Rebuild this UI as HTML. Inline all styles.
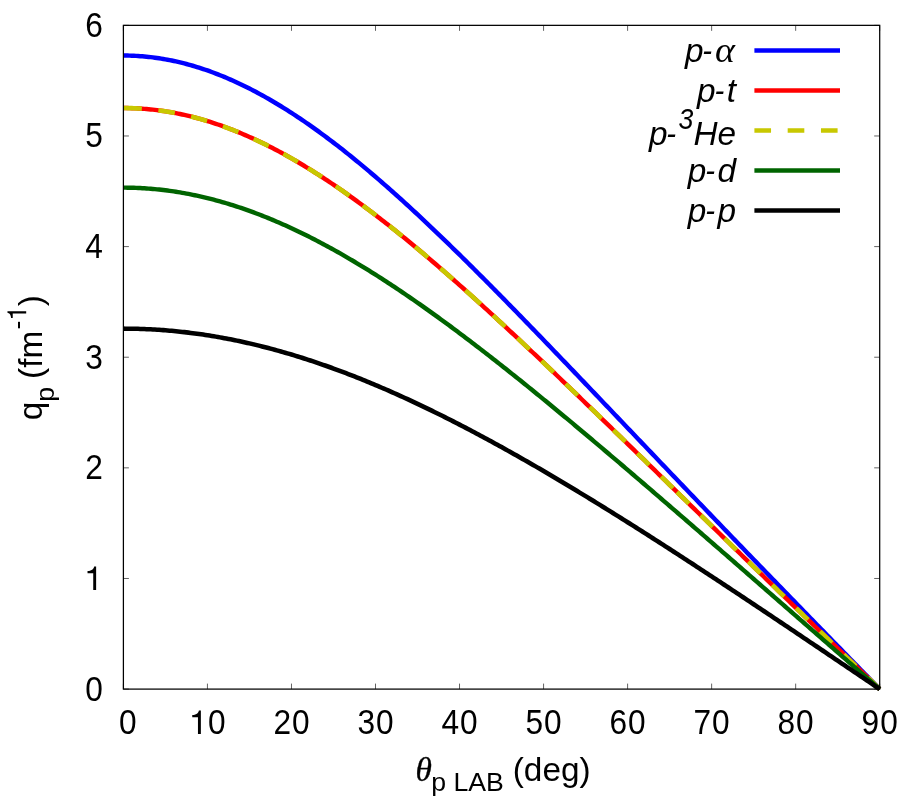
<!DOCTYPE html>
<html><head><meta charset="utf-8"><title>q_p vs theta_p LAB</title>
<style>
html,body{margin:0;padding:0;background:#fff;}
body{width:900px;height:796px;overflow:hidden;position:relative;font-family:"Liberation Sans",sans-serif;}
</style></head><body>
<svg width="900" height="796" viewBox="0 0 900 796" style="position:absolute;left:0;top:0;will-change:transform">
<path d="M123.40,689.1 V683.6 M123.40,25.35 V30.85 M207.43,689.1 V683.6 M207.43,25.35 V30.85 M291.47,689.1 V683.6 M291.47,25.35 V30.85 M375.50,689.1 V683.6 M375.50,25.35 V30.85 M459.53,689.1 V683.6 M459.53,25.35 V30.85 M543.57,689.1 V683.6 M543.57,25.35 V30.85 M627.60,689.1 V683.6 M627.60,25.35 V30.85 M711.63,689.1 V683.6 M711.63,25.35 V30.85 M795.67,689.1 V683.6 M795.67,25.35 V30.85 M879.70,689.1 V683.6 M879.70,25.35 V30.85 M123.4,689.10 H128.9 M879.7,689.10 H874.2 M123.4,578.48 H128.9 M879.7,578.48 H874.2 M123.4,467.85 H128.9 M879.7,467.85 H874.2 M123.4,357.23 H128.9 M879.7,357.23 H874.2 M123.4,246.60 H128.9 M879.7,246.60 H874.2 M123.4,135.98 H128.9 M879.7,135.98 H874.2 M123.4,25.35 H128.9 M879.7,25.35 H874.2" stroke="#000" stroke-width="0.62" fill="none"/>
<path d="M123.40,55.56 L125.50,55.57 L127.60,55.59 L129.70,55.64 L131.80,55.71 L133.90,55.79 L136.00,55.90 L138.11,56.02 L140.21,56.16 L142.31,56.32 L144.41,56.50 L146.51,56.70 L148.61,56.92 L150.71,57.15 L152.81,57.41 L154.91,57.68 L157.01,57.97 L159.11,58.28 L161.22,58.61 L163.32,58.96 L165.42,59.32 L167.52,59.71 L169.62,60.11 L171.72,60.53 L173.82,60.97 L175.92,61.43 L178.02,61.91 L180.12,62.40 L182.22,62.92 L184.32,63.45 L186.43,64.00 L188.53,64.57 L190.63,65.15 L192.73,65.75 L194.83,66.38 L196.93,67.01 L199.03,67.67 L201.13,68.35 L203.23,69.04 L205.33,69.75 L207.43,70.47 L209.53,71.22 L211.63,71.98 L213.74,72.76 L215.84,73.56 L217.94,74.37 L220.04,75.20 L222.14,76.05 L224.24,76.91 L226.34,77.79 L228.44,78.69 L230.54,79.60 L232.64,80.53 L234.74,81.48 L236.85,82.44 L238.95,83.42 L241.05,84.42 L243.15,85.43 L245.25,86.46 L247.35,87.50 L249.45,88.56 L251.55,89.63 L253.65,90.73 L255.75,91.83 L257.85,92.95 L259.95,94.09 L262.06,95.24 L264.16,96.41 L266.26,97.59 L268.36,98.78 L270.46,100.00 L272.56,101.22 L274.66,102.46 L276.76,103.72 L278.86,104.99 L280.96,106.27 L283.06,107.57 L285.16,108.88 L287.27,110.20 L289.37,111.54 L291.47,112.89 L293.57,114.26 L295.67,115.64 L297.77,117.03 L299.87,118.43 L301.97,119.85 L304.07,121.28 L306.17,122.73 L308.27,124.19 L310.37,125.66 L312.48,127.14 L314.58,128.63 L316.68,130.14 L318.78,131.66 L320.88,133.19 L322.98,134.73 L325.08,136.28 L327.18,137.85 L329.28,139.43 L331.38,141.01 L333.48,142.61 L335.58,144.23 L337.69,145.85 L339.79,147.48 L341.89,149.12 L343.99,150.78 L346.09,152.44 L348.19,154.12 L350.29,155.80 L352.39,157.50 L354.49,159.20 L356.59,160.92 L358.69,162.64 L360.79,164.38 L362.90,166.12 L365.00,167.88 L367.10,169.64 L369.20,171.41 L371.30,173.19 L373.40,174.98 L375.50,176.78 L377.60,178.59 L379.70,180.41 L381.80,182.23 L383.90,184.07 L386.00,185.91 L388.11,187.76 L390.21,189.62 L392.31,191.48 L394.41,193.35 L396.51,195.24 L398.61,197.13 L400.71,199.02 L402.81,200.93 L404.91,202.84 L407.01,204.75 L409.11,206.68 L411.21,208.61 L413.32,210.55 L415.42,212.50 L417.52,214.45 L419.62,216.41 L421.72,218.37 L423.82,220.34 L425.92,222.32 L428.02,224.30 L430.12,226.29 L432.22,228.29 L434.32,230.29 L436.42,232.30 L438.53,234.31 L440.63,236.32 L442.73,238.35 L444.83,240.38 L446.93,242.41 L449.03,244.45 L451.13,246.49 L453.23,248.54 L455.33,250.59 L457.43,252.65 L459.53,254.71 L461.63,256.78 L463.74,258.85 L465.84,260.93 L467.94,263.01 L470.04,265.09 L472.14,267.18 L474.24,269.27 L476.34,271.36 L478.44,273.46 L480.54,275.57 L482.64,277.67 L484.74,279.78 L486.84,281.90 L488.95,284.02 L491.05,286.14 L493.15,288.26 L495.25,290.39 L497.35,292.52 L499.45,294.65 L501.55,296.79 L503.65,298.92 L505.75,301.07 L507.85,303.21 L509.95,305.36 L512.05,307.51 L514.16,309.66 L516.26,311.81 L518.36,313.97 L520.46,316.13 L522.56,318.29 L524.66,320.45 L526.76,322.62 L528.86,324.78 L530.96,326.95 L533.06,329.12 L535.16,331.30 L537.26,333.47 L539.37,335.65 L541.47,337.82 L543.57,340.00 L545.67,342.18 L547.77,344.37 L549.87,346.55 L551.97,348.74 L554.07,350.92 L556.17,353.11 L558.27,355.30 L560.37,357.49 L562.47,359.68 L564.58,361.87 L566.68,364.07 L568.78,366.26 L570.88,368.46 L572.98,370.65 L575.08,372.85 L577.18,375.05 L579.28,377.24 L581.38,379.44 L583.48,381.64 L585.58,383.84 L587.68,386.04 L589.78,388.25 L591.89,390.45 L593.99,392.65 L596.09,394.85 L598.19,397.06 L600.29,399.26 L602.39,401.46 L604.49,403.67 L606.59,405.87 L608.69,408.08 L610.79,410.28 L612.89,412.49 L615.00,414.69 L617.10,416.89 L619.20,419.10 L621.30,421.30 L623.40,423.51 L625.50,425.71 L627.60,427.92 L629.70,430.12 L631.80,432.33 L633.90,434.53 L636.00,436.74 L638.10,438.94 L640.21,441.15 L642.31,443.35 L644.41,445.55 L646.51,447.76 L648.61,449.96 L650.71,452.16 L652.81,454.36 L654.91,456.57 L657.01,458.77 L659.11,460.97 L661.21,463.17 L663.31,465.37 L665.42,467.57 L667.52,469.77 L669.62,471.97 L671.72,474.17 L673.82,476.36 L675.92,478.56 L678.02,480.76 L680.12,482.96 L682.22,485.15 L684.32,487.35 L686.42,489.54 L688.52,491.74 L690.63,493.93 L692.73,496.12 L694.83,498.32 L696.93,500.51 L699.03,502.70 L701.13,504.89 L703.23,507.08 L705.33,509.27 L707.43,511.46 L709.53,513.65 L711.63,515.84 L713.73,518.02 L715.84,520.21 L717.94,522.39 L720.04,524.58 L722.14,526.76 L724.24,528.95 L726.34,531.13 L728.44,533.31 L730.54,535.50 L732.64,537.68 L734.74,539.86 L736.84,542.04 L738.94,544.22 L741.04,546.40 L743.15,548.57 L745.25,550.75 L747.35,552.93 L749.45,555.10 L751.55,557.28 L753.65,559.45 L755.75,561.63 L757.85,563.80 L759.95,565.98 L762.05,568.15 L764.15,570.32 L766.25,572.49 L768.36,574.66 L770.46,576.83 L772.56,579.00 L774.66,581.17 L776.76,583.34 L778.86,585.51 L780.96,587.67 L783.06,589.84 L785.16,592.01 L787.26,594.17 L789.36,596.34 L791.47,598.50 L793.57,600.67 L795.67,602.83 L797.77,604.99 L799.87,607.16 L801.97,609.32 L804.07,611.48 L806.17,613.64 L808.27,615.80 L810.37,617.96 L812.47,620.12 L814.57,622.28 L816.68,624.44 L818.78,626.60 L820.88,628.76 L822.98,630.92 L825.08,633.08 L827.18,635.23 L829.28,637.39 L831.38,639.55 L833.48,641.70 L835.58,643.86 L837.68,646.02 L839.78,648.17 L841.89,650.33 L843.99,652.48 L846.09,654.64 L848.19,656.79 L850.29,658.95 L852.39,661.10 L854.49,663.26 L856.59,665.41 L858.69,667.57 L860.79,669.72 L862.89,671.87 L864.99,674.03 L867.10,676.18 L869.20,678.33 L871.30,680.49 L873.40,682.64 L875.50,684.79 L877.60,686.95 L879.70,689.10" stroke="#0000ff" stroke-width="4.45" fill="none" stroke-linecap="butt" stroke-linejoin="round"/>
<path d="M123.40,108.04 L125.50,108.05 L127.60,108.08 L129.70,108.12 L131.80,108.17 L133.90,108.25 L136.00,108.34 L138.11,108.45 L140.21,108.57 L142.31,108.71 L144.41,108.87 L146.51,109.04 L148.61,109.23 L150.71,109.44 L152.81,109.66 L154.91,109.90 L157.01,110.15 L159.11,110.42 L161.22,110.71 L163.32,111.01 L165.42,111.33 L167.52,111.67 L169.62,112.02 L171.72,112.39 L173.82,112.77 L175.92,113.17 L178.02,113.59 L180.12,114.02 L182.22,114.47 L184.32,114.94 L186.43,115.42 L188.53,115.91 L190.63,116.43 L192.73,116.95 L194.83,117.50 L196.93,118.06 L199.03,118.63 L201.13,119.22 L203.23,119.83 L205.33,120.45 L207.43,121.08 L209.53,121.73 L211.63,122.40 L213.74,123.08 L215.84,123.78 L217.94,124.49 L220.04,125.22 L222.14,125.96 L224.24,126.72 L226.34,127.49 L228.44,128.28 L230.54,129.08 L232.64,129.90 L234.74,130.73 L236.85,131.57 L238.95,132.43 L241.05,133.30 L243.15,134.19 L245.25,135.09 L247.35,136.01 L249.45,136.94 L251.55,137.88 L253.65,138.84 L255.75,139.81 L257.85,140.80 L259.95,141.80 L262.06,142.81 L264.16,143.84 L266.26,144.87 L268.36,145.93 L270.46,146.99 L272.56,148.07 L274.66,149.16 L276.76,150.27 L278.86,151.39 L280.96,152.52 L283.06,153.66 L285.16,154.81 L287.27,155.98 L289.37,157.16 L291.47,158.36 L293.57,159.56 L295.67,160.78 L297.77,162.01 L299.87,163.25 L301.97,164.50 L304.07,165.76 L306.17,167.04 L308.27,168.33 L310.37,169.63 L312.48,170.94 L314.58,172.26 L316.68,173.59 L318.78,174.94 L320.88,176.29 L322.98,177.66 L325.08,179.03 L327.18,180.42 L329.28,181.82 L331.38,183.23 L333.48,184.64 L335.58,186.07 L337.69,187.51 L339.79,188.96 L341.89,190.42 L343.99,191.89 L346.09,193.37 L348.19,194.86 L350.29,196.35 L352.39,197.86 L354.49,199.38 L356.59,200.90 L358.69,202.44 L360.79,203.98 L362.90,205.54 L365.00,207.10 L367.10,208.67 L369.20,210.25 L371.30,211.84 L373.40,213.44 L375.50,215.04 L377.60,216.65 L379.70,218.28 L381.80,219.91 L383.90,221.54 L386.00,223.19 L388.11,224.84 L390.21,226.50 L392.31,228.17 L394.41,229.85 L396.51,231.53 L398.61,233.22 L400.71,234.92 L402.81,236.63 L404.91,238.34 L407.01,240.06 L409.11,241.79 L411.21,243.52 L413.32,245.26 L415.42,247.01 L417.52,248.76 L419.62,250.52 L421.72,252.28 L423.82,254.06 L425.92,255.83 L428.02,257.62 L430.12,259.41 L432.22,261.20 L434.32,263.01 L436.42,264.81 L438.53,266.63 L440.63,268.44 L442.73,270.27 L444.83,272.10 L446.93,273.93 L449.03,275.77 L451.13,277.62 L453.23,279.47 L455.33,281.32 L457.43,283.18 L459.53,285.05 L461.63,286.92 L463.74,288.79 L465.84,290.67 L467.94,292.55 L470.04,294.44 L472.14,296.33 L474.24,298.23 L476.34,300.13 L478.44,302.03 L480.54,303.94 L482.64,305.85 L484.74,307.77 L486.84,309.69 L488.95,311.61 L491.05,313.54 L493.15,315.47 L495.25,317.40 L497.35,319.34 L499.45,321.28 L501.55,323.23 L503.65,325.17 L505.75,327.13 L507.85,329.08 L509.95,331.04 L512.05,333.00 L514.16,334.96 L516.26,336.93 L518.36,338.89 L520.46,340.87 L522.56,342.84 L524.66,344.82 L526.76,346.80 L528.86,348.78 L530.96,350.76 L533.06,352.75 L535.16,354.74 L537.26,356.73 L539.37,358.72 L541.47,360.72 L543.57,362.71 L545.67,364.71 L547.77,366.72 L549.87,368.72 L551.97,370.72 L554.07,372.73 L556.17,374.74 L558.27,376.75 L560.37,378.76 L562.47,380.78 L564.58,382.80 L566.68,384.81 L568.78,386.83 L570.88,388.85 L572.98,390.87 L575.08,392.90 L577.18,394.92 L579.28,396.95 L581.38,398.98 L583.48,401.00 L585.58,403.03 L587.68,405.06 L589.78,407.10 L591.89,409.13 L593.99,411.16 L596.09,413.20 L598.19,415.23 L600.29,417.27 L602.39,419.31 L604.49,421.35 L606.59,423.39 L608.69,425.43 L610.79,427.47 L612.89,429.51 L615.00,431.55 L617.10,433.60 L619.20,435.64 L621.30,437.68 L623.40,439.73 L625.50,441.77 L627.60,443.82 L629.70,445.87 L631.80,447.91 L633.90,449.96 L636.00,452.01 L638.10,454.06 L640.21,456.10 L642.31,458.15 L644.41,460.20 L646.51,462.25 L648.61,464.30 L650.71,466.35 L652.81,468.40 L654.91,470.45 L657.01,472.50 L659.11,474.55 L661.21,476.60 L663.31,478.66 L665.42,480.71 L667.52,482.76 L669.62,484.81 L671.72,486.86 L673.82,488.91 L675.92,490.96 L678.02,493.01 L680.12,495.07 L682.22,497.12 L684.32,499.17 L686.42,501.22 L688.52,503.27 L690.63,505.32 L692.73,507.37 L694.83,509.42 L696.93,511.48 L699.03,513.53 L701.13,515.58 L703.23,517.63 L705.33,519.68 L707.43,521.73 L709.53,523.78 L711.63,525.83 L713.73,527.88 L715.84,529.93 L717.94,531.98 L720.04,534.03 L722.14,536.08 L724.24,538.12 L726.34,540.17 L728.44,542.22 L730.54,544.27 L732.64,546.32 L734.74,548.36 L736.84,550.41 L738.94,552.46 L741.04,554.51 L743.15,556.55 L745.25,558.60 L747.35,560.65 L749.45,562.69 L751.55,564.74 L753.65,566.78 L755.75,568.83 L757.85,570.87 L759.95,572.92 L762.05,574.96 L764.15,577.01 L766.25,579.05 L768.36,581.09 L770.46,583.14 L772.56,585.18 L774.66,587.22 L776.76,589.26 L778.86,591.31 L780.96,593.35 L783.06,595.39 L785.16,597.43 L787.26,599.47 L789.36,601.51 L791.47,603.55 L793.57,605.59 L795.67,607.63 L797.77,609.67 L799.87,611.71 L801.97,613.75 L804.07,615.79 L806.17,617.83 L808.27,619.87 L810.37,621.91 L812.47,623.95 L814.57,625.99 L816.68,628.02 L818.78,630.06 L820.88,632.10 L822.98,634.14 L825.08,636.17 L827.18,638.21 L829.28,640.25 L831.38,642.28 L833.48,644.32 L835.58,646.36 L837.68,648.39 L839.78,650.43 L841.89,652.47 L843.99,654.50 L846.09,656.54 L848.19,658.57 L850.29,660.61 L852.39,662.64 L854.49,664.68 L856.59,666.72 L858.69,668.75 L860.79,670.79 L862.89,672.82 L864.99,674.86 L867.10,676.89 L869.20,678.93 L871.30,680.96 L873.40,683.00 L875.50,685.03 L877.60,687.07 L879.70,689.10" stroke="#ff0000" stroke-width="4.45" fill="none" stroke-linecap="butt" stroke-linejoin="round"/>
<path d="M123.40,108.04 L125.50,108.05 L127.60,108.08 L129.70,108.12 L131.80,108.17 L133.90,108.25 L136.00,108.34 L138.11,108.45 L140.21,108.57 L142.31,108.71 L144.41,108.87 L146.51,109.04 L148.61,109.23 L150.71,109.44 L152.81,109.66 L154.91,109.90 L157.01,110.15 L159.11,110.42 L161.22,110.71 L163.32,111.01 L165.42,111.33 L167.52,111.67 L169.62,112.02 L171.72,112.39 L173.82,112.77 L175.92,113.17 L178.02,113.59 L180.12,114.02 L182.22,114.47 L184.32,114.94 L186.43,115.42 L188.53,115.91 L190.63,116.43 L192.73,116.95 L194.83,117.50 L196.93,118.06 L199.03,118.63 L201.13,119.22 L203.23,119.83 L205.33,120.45 L207.43,121.08 L209.53,121.73 L211.63,122.40 L213.74,123.08 L215.84,123.78 L217.94,124.49 L220.04,125.22 L222.14,125.96 L224.24,126.72 L226.34,127.49 L228.44,128.28 L230.54,129.08 L232.64,129.90 L234.74,130.73 L236.85,131.57 L238.95,132.43 L241.05,133.30 L243.15,134.19 L245.25,135.09 L247.35,136.01 L249.45,136.94 L251.55,137.88 L253.65,138.84 L255.75,139.81 L257.85,140.80 L259.95,141.80 L262.06,142.81 L264.16,143.84 L266.26,144.87 L268.36,145.93 L270.46,146.99 L272.56,148.07 L274.66,149.16 L276.76,150.27 L278.86,151.39 L280.96,152.52 L283.06,153.66 L285.16,154.81 L287.27,155.98 L289.37,157.16 L291.47,158.36 L293.57,159.56 L295.67,160.78 L297.77,162.01 L299.87,163.25 L301.97,164.50 L304.07,165.76 L306.17,167.04 L308.27,168.33 L310.37,169.63 L312.48,170.94 L314.58,172.26 L316.68,173.59 L318.78,174.94 L320.88,176.29 L322.98,177.66 L325.08,179.03 L327.18,180.42 L329.28,181.82 L331.38,183.23 L333.48,184.64 L335.58,186.07 L337.69,187.51 L339.79,188.96 L341.89,190.42 L343.99,191.89 L346.09,193.37 L348.19,194.86 L350.29,196.35 L352.39,197.86 L354.49,199.38 L356.59,200.90 L358.69,202.44 L360.79,203.98 L362.90,205.54 L365.00,207.10 L367.10,208.67 L369.20,210.25 L371.30,211.84 L373.40,213.44 L375.50,215.04 L377.60,216.65 L379.70,218.28 L381.80,219.91 L383.90,221.54 L386.00,223.19 L388.11,224.84 L390.21,226.50 L392.31,228.17 L394.41,229.85 L396.51,231.53 L398.61,233.22 L400.71,234.92 L402.81,236.63 L404.91,238.34 L407.01,240.06 L409.11,241.79 L411.21,243.52 L413.32,245.26 L415.42,247.01 L417.52,248.76 L419.62,250.52 L421.72,252.28 L423.82,254.06 L425.92,255.83 L428.02,257.62 L430.12,259.41 L432.22,261.20 L434.32,263.01 L436.42,264.81 L438.53,266.63 L440.63,268.44 L442.73,270.27 L444.83,272.10 L446.93,273.93 L449.03,275.77 L451.13,277.62 L453.23,279.47 L455.33,281.32 L457.43,283.18 L459.53,285.05 L461.63,286.92 L463.74,288.79 L465.84,290.67 L467.94,292.55 L470.04,294.44 L472.14,296.33 L474.24,298.23 L476.34,300.13 L478.44,302.03 L480.54,303.94 L482.64,305.85 L484.74,307.77 L486.84,309.69 L488.95,311.61 L491.05,313.54 L493.15,315.47 L495.25,317.40 L497.35,319.34 L499.45,321.28 L501.55,323.23 L503.65,325.17 L505.75,327.13 L507.85,329.08 L509.95,331.04 L512.05,333.00 L514.16,334.96 L516.26,336.93 L518.36,338.89 L520.46,340.87 L522.56,342.84 L524.66,344.82 L526.76,346.80 L528.86,348.78 L530.96,350.76 L533.06,352.75 L535.16,354.74 L537.26,356.73 L539.37,358.72 L541.47,360.72 L543.57,362.71 L545.67,364.71 L547.77,366.72 L549.87,368.72 L551.97,370.72 L554.07,372.73 L556.17,374.74 L558.27,376.75 L560.37,378.76 L562.47,380.78 L564.58,382.80 L566.68,384.81 L568.78,386.83 L570.88,388.85 L572.98,390.87 L575.08,392.90 L577.18,394.92 L579.28,396.95 L581.38,398.98 L583.48,401.00 L585.58,403.03 L587.68,405.06 L589.78,407.10 L591.89,409.13 L593.99,411.16 L596.09,413.20 L598.19,415.23 L600.29,417.27 L602.39,419.31 L604.49,421.35 L606.59,423.39 L608.69,425.43 L610.79,427.47 L612.89,429.51 L615.00,431.55 L617.10,433.60 L619.20,435.64 L621.30,437.68 L623.40,439.73 L625.50,441.77 L627.60,443.82 L629.70,445.87 L631.80,447.91 L633.90,449.96 L636.00,452.01 L638.10,454.06 L640.21,456.10 L642.31,458.15 L644.41,460.20 L646.51,462.25 L648.61,464.30 L650.71,466.35 L652.81,468.40 L654.91,470.45 L657.01,472.50 L659.11,474.55 L661.21,476.60 L663.31,478.66 L665.42,480.71 L667.52,482.76 L669.62,484.81 L671.72,486.86 L673.82,488.91 L675.92,490.96 L678.02,493.01 L680.12,495.07 L682.22,497.12 L684.32,499.17 L686.42,501.22 L688.52,503.27 L690.63,505.32 L692.73,507.37 L694.83,509.42 L696.93,511.48 L699.03,513.53 L701.13,515.58 L703.23,517.63 L705.33,519.68 L707.43,521.73 L709.53,523.78 L711.63,525.83 L713.73,527.88 L715.84,529.93 L717.94,531.98 L720.04,534.03 L722.14,536.08 L724.24,538.12 L726.34,540.17 L728.44,542.22 L730.54,544.27 L732.64,546.32 L734.74,548.36 L736.84,550.41 L738.94,552.46 L741.04,554.51 L743.15,556.55 L745.25,558.60 L747.35,560.65 L749.45,562.69 L751.55,564.74 L753.65,566.78 L755.75,568.83 L757.85,570.87 L759.95,572.92 L762.05,574.96 L764.15,577.01 L766.25,579.05 L768.36,581.09 L770.46,583.14 L772.56,585.18 L774.66,587.22 L776.76,589.26 L778.86,591.31 L780.96,593.35 L783.06,595.39 L785.16,597.43 L787.26,599.47 L789.36,601.51 L791.47,603.55 L793.57,605.59 L795.67,607.63 L797.77,609.67 L799.87,611.71 L801.97,613.75 L804.07,615.79 L806.17,617.83 L808.27,619.87 L810.37,621.91 L812.47,623.95 L814.57,625.99 L816.68,628.02 L818.78,630.06 L820.88,632.10 L822.98,634.14 L825.08,636.17 L827.18,638.21 L829.28,640.25 L831.38,642.28 L833.48,644.32 L835.58,646.36 L837.68,648.39 L839.78,650.43 L841.89,652.47 L843.99,654.50 L846.09,656.54 L848.19,658.57 L850.29,660.61 L852.39,662.64 L854.49,664.68 L856.59,666.72 L858.69,668.75 L860.79,670.79 L862.89,672.82 L864.99,674.86 L867.10,676.89 L869.20,678.93 L871.30,680.96 L873.40,683.00 L875.50,685.03 L877.60,687.07 L879.70,689.10" stroke="#c8c800" stroke-width="4.6" fill="none" stroke-linecap="butt" stroke-linejoin="round" stroke-dasharray="18.45 16.64 16.64 16.64 16.64 16.64 16.64 16.64 16.64 16.64 16.64 11.7 16.64 16.64 16.64 16.64 16.64 16.64 16.64 16.64 16.64 16.64 16.64 16.64 20.59 16.64 16.64 16.64 16.64 16.64 16.64 16.64 16.64 16.64 16.64 16.64 16.64 16.64 16.64 16.64 16.64 5.45 16.64 16.64 16.64 16.64 16.64 16.64 16.64 16.64 16.64 16.64 16.64 16.64 16.64 16.64 16.64 16.64 21.5 0"/>
<path d="M123.40,187.65 L125.50,187.66 L127.60,187.68 L129.70,187.71 L131.80,187.76 L133.90,187.82 L136.00,187.89 L138.11,187.97 L140.21,188.07 L142.31,188.19 L144.41,188.31 L146.51,188.45 L148.61,188.60 L150.71,188.77 L152.81,188.94 L154.91,189.13 L157.01,189.34 L159.11,189.56 L161.22,189.79 L163.32,190.03 L165.42,190.29 L167.52,190.55 L169.62,190.84 L171.72,191.13 L173.82,191.44 L175.92,191.76 L178.02,192.09 L180.12,192.44 L182.22,192.80 L184.32,193.17 L186.43,193.56 L188.53,193.96 L190.63,194.37 L192.73,194.79 L194.83,195.23 L196.93,195.67 L199.03,196.14 L201.13,196.61 L203.23,197.10 L205.33,197.59 L207.43,198.11 L209.53,198.63 L211.63,199.16 L213.74,199.71 L215.84,200.27 L217.94,200.85 L220.04,201.43 L222.14,202.03 L224.24,202.64 L226.34,203.26 L228.44,203.89 L230.54,204.54 L232.64,205.19 L234.74,205.86 L236.85,206.54 L238.95,207.24 L241.05,207.94 L243.15,208.66 L245.25,209.38 L247.35,210.12 L249.45,210.87 L251.55,211.64 L253.65,212.41 L255.75,213.19 L257.85,213.99 L259.95,214.80 L262.06,215.62 L264.16,216.45 L266.26,217.29 L268.36,218.14 L270.46,219.00 L272.56,219.88 L274.66,220.76 L276.76,221.66 L278.86,222.56 L280.96,223.48 L283.06,224.41 L285.16,225.34 L287.27,226.29 L289.37,227.25 L291.47,228.22 L293.57,229.20 L295.67,230.19 L297.77,231.19 L299.87,232.20 L301.97,233.22 L304.07,234.25 L306.17,235.29 L308.27,236.34 L310.37,237.39 L312.48,238.46 L314.58,239.54 L316.68,240.63 L318.78,241.73 L320.88,242.83 L322.98,243.95 L325.08,245.07 L327.18,246.21 L329.28,247.35 L331.38,248.51 L333.48,249.67 L335.58,250.84 L337.69,252.02 L339.79,253.21 L341.89,254.40 L343.99,255.61 L346.09,256.82 L348.19,258.04 L350.29,259.28 L352.39,260.51 L354.49,261.76 L356.59,263.02 L358.69,264.28 L360.79,265.55 L362.90,266.83 L365.00,268.12 L367.10,269.42 L369.20,270.72 L371.30,272.03 L373.40,273.35 L375.50,274.68 L377.60,276.01 L379.70,277.35 L381.80,278.70 L383.90,280.06 L386.00,281.42 L388.11,282.79 L390.21,284.17 L392.31,285.55 L394.41,286.95 L396.51,288.34 L398.61,289.75 L400.71,291.16 L402.81,292.58 L404.91,294.00 L407.01,295.44 L409.11,296.87 L411.21,298.32 L413.32,299.77 L415.42,301.23 L417.52,302.69 L419.62,304.16 L421.72,305.63 L423.82,307.11 L425.92,308.60 L428.02,310.09 L430.12,311.59 L432.22,313.10 L434.32,314.61 L436.42,316.12 L438.53,317.64 L440.63,319.17 L442.73,320.70 L444.83,322.24 L446.93,323.78 L449.03,325.33 L451.13,326.88 L453.23,328.44 L455.33,330.00 L457.43,331.57 L459.53,333.14 L461.63,334.72 L463.74,336.30 L465.84,337.89 L467.94,339.48 L470.04,341.07 L472.14,342.67 L474.24,344.28 L476.34,345.89 L478.44,347.50 L480.54,349.12 L482.64,350.74 L484.74,352.37 L486.84,353.99 L488.95,355.63 L491.05,357.27 L493.15,358.91 L495.25,360.55 L497.35,362.20 L499.45,363.86 L501.55,365.51 L503.65,367.17 L505.75,368.84 L507.85,370.51 L509.95,372.18 L512.05,373.85 L514.16,375.53 L516.26,377.21 L518.36,378.90 L520.46,380.58 L522.56,382.27 L524.66,383.97 L526.76,385.66 L528.86,387.36 L530.96,389.07 L533.06,390.77 L535.16,392.48 L537.26,394.19 L539.37,395.91 L541.47,397.63 L543.57,399.35 L545.67,401.07 L547.77,402.79 L549.87,404.52 L551.97,406.25 L554.07,407.98 L556.17,409.72 L558.27,411.46 L560.37,413.20 L562.47,414.94 L564.58,416.68 L566.68,418.43 L568.78,420.18 L570.88,421.93 L572.98,423.68 L575.08,425.44 L577.18,427.19 L579.28,428.95 L581.38,430.71 L583.48,432.47 L585.58,434.24 L587.68,436.01 L589.78,437.77 L591.89,439.54 L593.99,441.32 L596.09,443.09 L598.19,444.86 L600.29,446.64 L602.39,448.42 L604.49,450.20 L606.59,451.98 L608.69,453.76 L610.79,455.55 L612.89,457.33 L615.00,459.12 L617.10,460.91 L619.20,462.70 L621.30,464.49 L623.40,466.28 L625.50,468.08 L627.60,469.87 L629.70,471.67 L631.80,473.46 L633.90,475.26 L636.00,477.06 L638.10,478.86 L640.21,480.67 L642.31,482.47 L644.41,484.27 L646.51,486.08 L648.61,487.88 L650.71,489.69 L652.81,491.50 L654.91,493.31 L657.01,495.12 L659.11,496.93 L661.21,498.74 L663.31,500.55 L665.42,502.36 L667.52,504.17 L669.62,505.99 L671.72,507.80 L673.82,509.62 L675.92,511.44 L678.02,513.25 L680.12,515.07 L682.22,516.89 L684.32,518.71 L686.42,520.53 L688.52,522.35 L690.63,524.17 L692.73,525.99 L694.83,527.81 L696.93,529.64 L699.03,531.46 L701.13,533.28 L703.23,535.11 L705.33,536.93 L707.43,538.76 L709.53,540.58 L711.63,542.41 L713.73,544.23 L715.84,546.06 L717.94,547.89 L720.04,549.71 L722.14,551.54 L724.24,553.37 L726.34,555.20 L728.44,557.03 L730.54,558.86 L732.64,560.69 L734.74,562.52 L736.84,564.34 L738.94,566.18 L741.04,568.01 L743.15,569.84 L745.25,571.67 L747.35,573.50 L749.45,575.33 L751.55,577.16 L753.65,578.99 L755.75,580.83 L757.85,582.66 L759.95,584.49 L762.05,586.32 L764.15,588.16 L766.25,589.99 L768.36,591.82 L770.46,593.66 L772.56,595.49 L774.66,597.32 L776.76,599.16 L778.86,600.99 L780.96,602.82 L783.06,604.66 L785.16,606.49 L787.26,608.33 L789.36,610.16 L791.47,612.00 L793.57,613.83 L795.67,615.67 L797.77,617.50 L799.87,619.34 L801.97,621.17 L804.07,623.01 L806.17,624.84 L808.27,626.68 L810.37,628.51 L812.47,630.35 L814.57,632.18 L816.68,634.02 L818.78,635.85 L820.88,637.69 L822.98,639.53 L825.08,641.36 L827.18,643.20 L829.28,645.03 L831.38,646.87 L833.48,648.70 L835.58,650.54 L837.68,652.38 L839.78,654.21 L841.89,656.05 L843.99,657.88 L846.09,659.72 L848.19,661.56 L850.29,663.39 L852.39,665.23 L854.49,667.07 L856.59,668.90 L858.69,670.74 L860.79,672.57 L862.89,674.41 L864.99,676.25 L867.10,678.08 L869.20,679.92 L871.30,681.76 L873.40,683.59 L875.50,685.43 L877.60,687.26 L879.70,689.10" stroke="#006400" stroke-width="4.4" fill="none" stroke-linecap="butt" stroke-linejoin="round"/>
<path d="M123.40,328.64 L125.50,328.65 L127.60,328.66 L129.70,328.68 L131.80,328.71 L133.90,328.75 L136.00,328.79 L138.11,328.85 L140.21,328.91 L142.31,328.98 L144.41,329.06 L146.51,329.15 L148.61,329.24 L150.71,329.35 L152.81,329.46 L154.91,329.58 L157.01,329.71 L159.11,329.85 L161.22,329.99 L163.32,330.14 L165.42,330.31 L167.52,330.48 L169.62,330.65 L171.72,330.84 L173.82,331.04 L175.92,331.24 L178.02,331.45 L180.12,331.67 L182.22,331.90 L184.32,332.13 L186.43,332.38 L188.53,332.63 L190.63,332.89 L192.73,333.16 L194.83,333.43 L196.93,333.72 L199.03,334.01 L201.13,334.31 L203.23,334.62 L205.33,334.93 L207.43,335.26 L209.53,335.59 L211.63,335.93 L213.74,336.28 L215.84,336.63 L217.94,337.00 L220.04,337.37 L222.14,337.75 L224.24,338.14 L226.34,338.53 L228.44,338.94 L230.54,339.35 L232.64,339.77 L234.74,340.19 L236.85,340.63 L238.95,341.07 L241.05,341.52 L243.15,341.98 L245.25,342.44 L247.35,342.91 L249.45,343.39 L251.55,343.88 L253.65,344.38 L255.75,344.88 L257.85,345.39 L259.95,345.91 L262.06,346.43 L264.16,346.97 L266.26,347.51 L268.36,348.05 L270.46,348.61 L272.56,349.17 L274.66,349.74 L276.76,350.32 L278.86,350.90 L280.96,351.49 L283.06,352.09 L285.16,352.69 L287.27,353.31 L289.37,353.93 L291.47,354.55 L293.57,355.19 L295.67,355.83 L297.77,356.47 L299.87,357.13 L301.97,357.79 L304.07,358.46 L306.17,359.13 L308.27,359.82 L310.37,360.50 L312.48,361.20 L314.58,361.90 L316.68,362.61 L318.78,363.33 L320.88,364.05 L322.98,364.78 L325.08,365.51 L327.18,366.25 L329.28,367.00 L331.38,367.76 L333.48,368.52 L335.58,369.29 L337.69,370.06 L339.79,370.84 L341.89,371.63 L343.99,372.42 L346.09,373.22 L348.19,374.02 L350.29,374.83 L352.39,375.65 L354.49,376.48 L356.59,377.31 L358.69,378.14 L360.79,378.98 L362.90,379.83 L365.00,380.68 L367.10,381.54 L369.20,382.41 L371.30,383.28 L373.40,384.16 L375.50,385.04 L377.60,385.93 L379.70,386.82 L381.80,387.72 L383.90,388.62 L386.00,389.53 L388.11,390.45 L390.21,391.37 L392.31,392.30 L394.41,393.23 L396.51,394.17 L398.61,395.11 L400.71,396.06 L402.81,397.01 L404.91,397.97 L407.01,398.94 L409.11,399.91 L411.21,400.88 L413.32,401.86 L415.42,402.84 L417.52,403.83 L419.62,404.83 L421.72,405.83 L423.82,406.83 L425.92,407.84 L428.02,408.86 L430.12,409.87 L432.22,410.90 L434.32,411.93 L436.42,412.96 L438.53,414.00 L440.63,415.04 L442.73,416.09 L444.83,417.14 L446.93,418.19 L449.03,419.25 L451.13,420.32 L453.23,421.39 L455.33,422.46 L457.43,423.54 L459.53,424.62 L461.63,425.71 L463.74,426.80 L465.84,427.89 L467.94,428.99 L470.04,430.10 L472.14,431.20 L474.24,432.31 L476.34,433.43 L478.44,434.55 L480.54,435.67 L482.64,436.80 L484.74,437.93 L486.84,439.07 L488.95,440.20 L491.05,441.35 L493.15,442.49 L495.25,443.64 L497.35,444.80 L499.45,445.95 L501.55,447.11 L503.65,448.28 L505.75,449.45 L507.85,450.62 L509.95,451.79 L512.05,452.97 L514.16,454.15 L516.26,455.34 L518.36,456.53 L520.46,457.72 L522.56,458.91 L524.66,460.11 L526.76,461.32 L528.86,462.52 L530.96,463.73 L533.06,464.94 L535.16,466.15 L537.26,467.37 L539.37,468.59 L541.47,469.81 L543.57,471.04 L545.67,472.27 L547.77,473.50 L549.87,474.74 L551.97,475.98 L554.07,477.22 L556.17,478.46 L558.27,479.71 L560.37,480.96 L562.47,482.21 L564.58,483.46 L566.68,484.72 L568.78,485.98 L570.88,487.24 L572.98,488.51 L575.08,489.77 L577.18,491.04 L579.28,492.32 L581.38,493.59 L583.48,494.87 L585.58,496.15 L587.68,497.43 L589.78,498.72 L591.89,500.00 L593.99,501.29 L596.09,502.58 L598.19,503.88 L600.29,505.17 L602.39,506.47 L604.49,507.77 L606.59,509.07 L608.69,510.38 L610.79,511.69 L612.89,512.99 L615.00,514.31 L617.10,515.62 L619.20,516.93 L621.30,518.25 L623.40,519.57 L625.50,520.89 L627.60,522.21 L629.70,523.54 L631.80,524.86 L633.90,526.19 L636.00,527.52 L638.10,528.85 L640.21,530.19 L642.31,531.52 L644.41,532.86 L646.51,534.20 L648.61,535.54 L650.71,536.88 L652.81,538.22 L654.91,539.57 L657.01,540.91 L659.11,542.26 L661.21,543.61 L663.31,544.96 L665.42,546.32 L667.52,547.67 L669.62,549.03 L671.72,550.38 L673.82,551.74 L675.92,553.10 L678.02,554.46 L680.12,555.83 L682.22,557.19 L684.32,558.56 L686.42,559.92 L688.52,561.29 L690.63,562.66 L692.73,564.03 L694.83,565.40 L696.93,566.78 L699.03,568.15 L701.13,569.53 L703.23,570.90 L705.33,572.28 L707.43,573.66 L709.53,575.04 L711.63,576.42 L713.73,577.80 L715.84,579.19 L717.94,580.57 L720.04,581.96 L722.14,583.34 L724.24,584.73 L726.34,586.12 L728.44,587.51 L730.54,588.90 L732.64,590.29 L734.74,591.68 L736.84,593.07 L738.94,594.47 L741.04,595.86 L743.15,597.26 L745.25,598.65 L747.35,600.05 L749.45,601.45 L751.55,602.85 L753.65,604.25 L755.75,605.65 L757.85,607.05 L759.95,608.45 L762.05,609.85 L764.15,611.25 L766.25,612.66 L768.36,614.06 L770.46,615.47 L772.56,616.87 L774.66,618.28 L776.76,619.68 L778.86,621.09 L780.96,622.50 L783.06,623.91 L785.16,625.32 L787.26,626.73 L789.36,628.14 L791.47,629.55 L793.57,630.96 L795.67,632.37 L797.77,633.78 L799.87,635.20 L801.97,636.61 L804.07,638.02 L806.17,639.44 L808.27,640.85 L810.37,642.27 L812.47,643.68 L814.57,645.10 L816.68,646.51 L818.78,647.93 L820.88,649.35 L822.98,650.76 L825.08,652.18 L827.18,653.60 L829.28,655.02 L831.38,656.43 L833.48,657.85 L835.58,659.27 L837.68,660.69 L839.78,662.11 L841.89,663.53 L843.99,664.95 L846.09,666.37 L848.19,667.79 L850.29,669.21 L852.39,670.63 L854.49,672.05 L856.59,673.47 L858.69,674.89 L860.79,676.31 L862.89,677.73 L864.99,679.15 L867.10,680.57 L869.20,681.99 L871.30,683.41 L873.40,684.84 L875.50,686.26 L877.60,687.68 L879.70,689.10" stroke="#000000" stroke-width="4.55" fill="none" stroke-linecap="butt" stroke-linejoin="round"/>
<rect x="123.4" y="25.35" width="756.30" height="663.75" fill="none" stroke="#000" stroke-width="1.25"/>
<path d="M754.4,50.5 H840.0" stroke="#0000ff" stroke-width="4.45" fill="none"/>
<path d="M754.4,90.5 H840.0" stroke="#ff0000" stroke-width="4.45" fill="none"/>
<path d="M754.4,130.5 H840.0" stroke="#c8c800" stroke-width="4.6" fill="none" stroke-dasharray="16.64 16.64"/>
<path d="M754.4,170.5 H840.0" stroke="#006400" stroke-width="4.4" fill="none"/>
<path d="M754.4,210.5 H840.0" stroke="#000000" stroke-width="4.55" fill="none"/>
<text transform="translate(127.70,734.4) scale(0.95,1.075) translate(-9.27,0)" font-family="Liberation Sans, sans-serif" font-size="33.33">0</text>
<path d="M200.86,734.00 L200.86,710.57 L198.90,710.57 C198.56,712.67 197.06,714.94 192.26,715.10 L192.26,717.17 L197.96,717.17 L197.96,734.00 Z" fill="#000"/><text transform="translate(216.70,734.4) scale(0.95,1.075) translate(-9.27,0)" font-family="Liberation Sans, sans-serif" font-size="33.33">0</text>
<text transform="translate(282.20,734.4) scale(0.95,1.075) translate(-9.27,0)" font-family="Liberation Sans, sans-serif" font-size="33.33">2</text><text transform="translate(300.73,734.4) scale(0.95,1.075) translate(-9.27,0)" font-family="Liberation Sans, sans-serif" font-size="33.33">0</text>
<text transform="translate(366.23,734.4) scale(0.95,1.075) translate(-9.27,0)" font-family="Liberation Sans, sans-serif" font-size="33.33">3</text><text transform="translate(384.77,734.4) scale(0.95,1.075) translate(-9.27,0)" font-family="Liberation Sans, sans-serif" font-size="33.33">0</text>
<text transform="translate(450.27,734.4) scale(0.95,1.075) translate(-9.27,0)" font-family="Liberation Sans, sans-serif" font-size="33.33">4</text><text transform="translate(468.80,734.4) scale(0.95,1.075) translate(-9.27,0)" font-family="Liberation Sans, sans-serif" font-size="33.33">0</text>
<text transform="translate(534.30,734.4) scale(0.95,1.075) translate(-9.27,0)" font-family="Liberation Sans, sans-serif" font-size="33.33">5</text><text transform="translate(552.83,734.4) scale(0.95,1.075) translate(-9.27,0)" font-family="Liberation Sans, sans-serif" font-size="33.33">0</text>
<text transform="translate(618.33,734.4) scale(0.95,1.075) translate(-9.27,0)" font-family="Liberation Sans, sans-serif" font-size="33.33">6</text><text transform="translate(636.87,734.4) scale(0.95,1.075) translate(-9.27,0)" font-family="Liberation Sans, sans-serif" font-size="33.33">0</text>
<text transform="translate(702.37,734.4) scale(0.95,1.075) translate(-9.27,0)" font-family="Liberation Sans, sans-serif" font-size="33.33">7</text><text transform="translate(720.90,734.4) scale(0.95,1.075) translate(-9.27,0)" font-family="Liberation Sans, sans-serif" font-size="33.33">0</text>
<text transform="translate(786.40,734.4) scale(0.95,1.075) translate(-9.27,0)" font-family="Liberation Sans, sans-serif" font-size="33.33">8</text><text transform="translate(804.93,734.4) scale(0.95,1.075) translate(-9.27,0)" font-family="Liberation Sans, sans-serif" font-size="33.33">0</text>
<text transform="translate(870.43,734.4) scale(0.95,1.075) translate(-9.27,0)" font-family="Liberation Sans, sans-serif" font-size="33.33">9</text><text transform="translate(888.97,734.4) scale(0.95,1.075) translate(-9.27,0)" font-family="Liberation Sans, sans-serif" font-size="33.33">0</text>
<text transform="translate(94.03,701.4) scale(0.95,1.075) translate(-9.27,0)" font-family="Liberation Sans, sans-serif" font-size="33.33">0</text>
<path d="M96.13,590.00 L96.13,566.57 L94.16,566.57 C93.83,568.67 92.33,570.94 87.53,571.10 L87.53,573.17 L93.23,573.17 L93.23,590.00 Z" fill="#000"/>
<text transform="translate(94.03,479.4) scale(0.95,1.075) translate(-9.27,0)" font-family="Liberation Sans, sans-serif" font-size="33.33">2</text>
<text transform="translate(94.03,369.4) scale(0.95,1.075) translate(-9.27,0)" font-family="Liberation Sans, sans-serif" font-size="33.33">3</text>
<text transform="translate(94.03,258.4) scale(0.95,1.075) translate(-9.27,0)" font-family="Liberation Sans, sans-serif" font-size="33.33">4</text>
<text transform="translate(94.03,147.4) scale(0.95,1.075) translate(-9.27,0)" font-family="Liberation Sans, sans-serif" font-size="33.33">5</text>
<text transform="translate(94.03,37.4) scale(0.95,1.075) translate(-9.27,0)" font-family="Liberation Sans, sans-serif" font-size="33.33">6</text>
<text x="684.90" y="62.00" font-family="Liberation Sans, sans-serif" font-style="italic" font-size="33.33">p</text><text transform="translate(707.57,62.00) scale(0.88,1) translate(-6.03,0)" font-family="Liberation Sans, sans-serif" font-style="italic" font-size="33.33">-</text><text transform="translate(714.95,62.00) scale(1.04,1) translate(0.00,0)" font-family="Liberation Serif, serif" font-style="italic" font-size="36.5">α</text>
<text x="697.10" y="102.20" font-family="Liberation Sans, sans-serif" font-style="italic" font-size="33.33">p</text><text transform="translate(719.77,102.20) scale(0.88,1) translate(-6.03,0)" font-family="Liberation Sans, sans-serif" font-style="italic" font-size="33.33">-</text><text x="726.74" y="102.20" font-family="Liberation Sans, sans-serif" font-style="italic" font-size="33.33">t</text>
<text x="648.93" y="144.70" font-family="Liberation Sans, sans-serif" font-style="italic" font-size="33.33">p</text><text transform="translate(671.59,144.70) scale(0.88,1) translate(-6.03,0)" font-family="Liberation Sans, sans-serif" font-style="italic" font-size="33.33">-</text><text transform="translate(678.56,128.70) scale(1,1.075) translate(0.00,0)" font-family="Liberation Sans, sans-serif" font-style="italic" font-size="26.67">3</text><text x="693.39" y="144.70" font-family="Liberation Sans, sans-serif" font-style="italic" font-size="33.33">He</text>
<text x="687.83" y="182.20" font-family="Liberation Sans, sans-serif" font-style="italic" font-size="33.33">p</text><text transform="translate(710.49,182.20) scale(0.88,1) translate(-6.03,0)" font-family="Liberation Sans, sans-serif" font-style="italic" font-size="33.33">-</text><text x="717.46" y="182.20" font-family="Liberation Sans, sans-serif" font-style="italic" font-size="33.33">d</text>
<text x="687.83" y="222.20" font-family="Liberation Sans, sans-serif" font-style="italic" font-size="33.33">p</text><text transform="translate(710.49,222.20) scale(0.88,1) translate(-6.03,0)" font-family="Liberation Sans, sans-serif" font-style="italic" font-size="33.33">-</text><text x="717.46" y="222.20" font-family="Liberation Sans, sans-serif" font-style="italic" font-size="33.33">p</text>
<text x="502.05" y="781.3" font-family="Liberation Sans, sans-serif" font-size="33.33" text-anchor="middle"><tspan font-family="Liberation Serif, serif" font-style="italic" stroke="#000" stroke-width="0.35" dx="1">θ</tspan><tspan font-size="26.67" dy="9.2" dx="-0.6">p LAB</tspan><tspan dy="-9.2" dx="-0.4"> (deg)</tspan></text>
<g transform="translate(42.2,420.3) rotate(-90)"><text x="0.00" y="0" font-family="Liberation Sans, sans-serif" font-size="33.33">q</text><text x="18.54" y="11.5" font-family="Liberation Sans, sans-serif" font-size="26.67">p</text><text x="41.43" y="0" font-family="Liberation Sans, sans-serif" font-size="33.33">(fm</text><text x="90.80" y="-16" font-family="Liberation Sans, sans-serif" font-size="26.67">-</text><path d="M109.17,-16.00 L109.17,-34.75 L107.60,-34.75 C107.33,-33.07 106.13,-31.26 102.29,-31.12 L102.29,-29.47 L106.85,-29.47 L106.85,-16.00 Z" fill="#000"/><text x="113.96" y="0" font-family="Liberation Sans, sans-serif" font-size="33.33">)</text></g>
</svg>
</body></html>
